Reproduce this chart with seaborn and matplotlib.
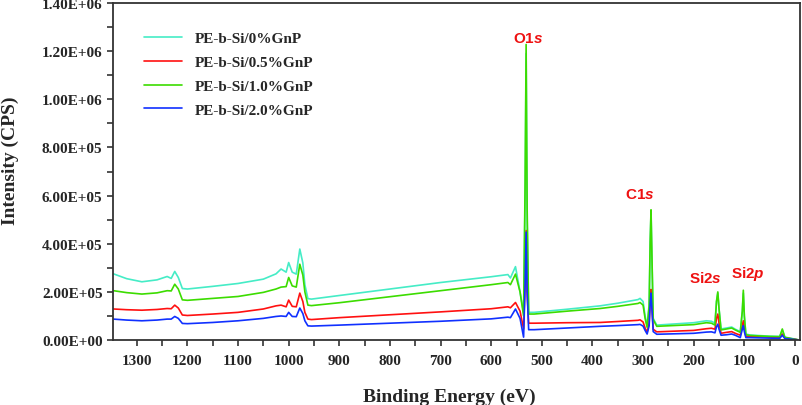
import pandas as pd
import matplotlib
matplotlib.use("Agg")
import matplotlib.pyplot as plt
import seaborn as sns
from matplotlib.ticker import MultipleLocator

# binding energy grid (eV) and intensities (x1e5 CPS)
energy = [1346, 1320, 1290, 1260, 1240, 1232, 1225, 1218, 1210, 1200,
          1150, 1100, 1050, 1025, 1015, 1005, 1000, 993, 985, 978,
          972, 968, 962, 955, 900, 800, 700, 600, 567, 562,
          552, 543, 536, 533, 531, 529, 526, 515, 450, 385,
          350, 310, 306, 300, 296, 292, 288, 286, 284.3, 282.5,
          280, 273, 200, 175, 165, 158, 155, 152.4, 150, 146,
          135, 125, 118, 108, 104, 102, 100, 97, 89, 50,
          30, 25, 20, 10, 0, -5]

gnp0 = [2.75, 2.55, 2.42, 2.50, 2.64, 2.56, 2.85, 2.60, 2.14, 2.12,
        2.23, 2.35, 2.53, 2.75, 2.95, 2.82, 3.22, 2.82, 2.74, 3.78,
        3.20, 2.30, 1.72, 1.70, 1.85, 2.12, 2.39, 2.63, 2.72, 2.58,
        3.05, 2.00, 1.12, 6.00, 11.9, 5.00, 1.15, 1.15, 1.28, 1.42,
        1.53, 1.68, 1.73, 1.60, 1.00, 0.59, 1.50, 4.00, 5.30, 3.40,
        0.90, 0.62, 0.72, 0.80, 0.78, 0.70, 1.60, 1.95, 1.30, 0.46,
        0.50, 0.54, 0.45, 0.35, 1.20, 1.95, 1.00, 0.25, 0.21, 0.16,
        0.15, 0.42, 0.12, 0.08, 0.04, 0.02]

gnp05 = [1.29, 1.26, 1.24, 1.27, 1.31, 1.30, 1.45, 1.33, 1.04, 1.02,
         1.08, 1.15, 1.29, 1.42, 1.45, 1.38, 1.66, 1.40, 1.38, 1.95,
         1.60, 1.15, 0.87, 0.85, 0.93, 1.05, 1.17, 1.30, 1.38, 1.34,
         1.56, 1.20, 0.46, 2.40, 4.55, 2.00, 0.70, 0.70, 0.72, 0.73,
         0.77, 0.82, 0.84, 0.75, 0.50, 0.32, 0.70, 1.60, 2.10, 1.40,
         0.45, 0.34, 0.40, 0.47, 0.49, 0.45, 0.90, 1.08, 0.70, 0.28,
         0.32, 0.35, 0.28, 0.20, 0.60, 0.80, 0.50, 0.16, 0.15, 0.12,
         0.11, 0.25, 0.09, 0.06, 0.03, 0.01]

gnp10 = [2.05, 1.97, 1.91, 1.96, 2.05, 2.04, 2.32, 2.12, 1.67, 1.65,
         1.73, 1.81, 1.98, 2.12, 2.20, 2.22, 2.60, 2.25, 2.20, 3.15,
         2.70, 2.00, 1.45, 1.43, 1.55, 1.80, 2.05, 2.30, 2.39, 2.30,
         2.74, 2.00, 1.00, 6.50, 12.28, 5.50, 1.08, 1.08, 1.20, 1.31,
         1.40, 1.52, 1.56, 1.45, 0.90, 0.53, 1.40, 4.10, 5.41, 3.50,
         0.85, 0.57, 0.64, 0.72, 0.70, 0.62, 1.60, 2.00, 1.30, 0.42,
         0.46, 0.50, 0.42, 0.32, 1.20, 2.07, 1.00, 0.22, 0.19, 0.15,
         0.14, 0.46, 0.11, 0.07, 0.03, 0.01]

gnp20 = [0.87, 0.83, 0.80, 0.83, 0.87, 0.87, 0.98, 0.90, 0.69, 0.68,
         0.73, 0.80, 0.90, 0.98, 1.00, 0.98, 1.15, 0.98, 0.97, 1.33,
         1.10, 0.80, 0.59, 0.58, 0.62, 0.70, 0.78, 0.88, 0.95, 0.93,
         1.29, 0.90, 0.12, 2.30, 4.48, 2.00, 0.43, 0.43, 0.50, 0.57,
         0.60, 0.64, 0.65, 0.58, 0.40, 0.25, 0.60, 1.50, 1.95, 1.30,
         0.35, 0.24, 0.28, 0.33, 0.34, 0.30, 0.55, 0.66, 0.45, 0.20,
         0.22, 0.25, 0.20, 0.10, 0.45, 0.60, 0.35, 0.10, 0.10, 0.08,
         0.07, 0.20, 0.06, 0.04, 0.02, 0.00]

labels = ["PE-b-Si/0%GnP", "PE-b-Si/0.5%GnP", "PE-b-Si/1.0%GnP", "PE-b-Si/2.0%GnP"]
colors = ["#45ECC6", "#FF1010", "#3CDC00", "#1030FF"]

# peak labels: (main, italic part, energy, intensity x1e5)
peaks = [("O1", "s", 527, 12.55), ("C1", "s", 306, 6.05),
         ("Si2", "s", 176, 2.6), ("Si2", "p", 93, 2.78)]

frames = []
for lab, ys in zip(labels, [gnp0, gnp05, gnp10, gnp20]):
    frames.append(pd.DataFrame({"energy": energy,
                                "cps": [v * 1e5 for v in ys],
                                "sample": lab}))
df = pd.concat(frames, ignore_index=True)

sns.set_style("ticks")
plt.rcParams['font.family'] = ['Liberation Serif', 'DejaVu Serif']
plt.rcParams['mathtext.fontset'] = 'custom'
plt.rcParams['mathtext.it'] = 'Liberation Sans:bold:italic'
plt.rcParams['mathtext.rm'] = 'Liberation Sans:bold'

fig = plt.figure(figsize=(8.03, 4.06), dpi=100)
ax = fig.add_axes([0.1407, 0.160, 0.8556, 0.830])

sns.lineplot(data=df, x="energy", y="cps", hue="sample", hue_order=labels,
             palette=dict(zip(labels, colors)), estimator=None, sort=False,
             linewidth=1.2, ax=ax)

ax.set_xlim(1347, -10)
ax.set_ylim(0, 1.4e6)
ax.xaxis.set_major_locator(MultipleLocator(100))
ax.xaxis.set_minor_locator(MultipleLocator(50))
ax.yaxis.set_major_locator(MultipleLocator(2e5))
ax.yaxis.set_minor_locator(MultipleLocator(1e5))
ax.yaxis.set_major_formatter(plt.FuncFormatter(lambda v, p: "%.2E" % v))
ax.tick_params(which="both", direction="out", length=4, width=1.2, color="#333333")
ax.tick_params(axis="x", pad=6)
for t in ax.get_xticklabels() + ax.get_yticklabels():
    t.set_fontweight("bold")
    t.set_fontsize(11)
for s in ax.spines.values():
    s.set_linewidth(1.3)
    s.set_color("#333333")

ax.set_xlabel("Binding Energy (eV)", fontsize=14, fontweight="bold")
ax.set_ylabel("Intensity (CPS)", fontsize=14, fontweight="bold")
ax.xaxis.set_label_coords(0.49, -0.14)
ax.yaxis.set_label_coords(-0.137, 0.535)

for main, it, x, y in peaks:
    ax.text(x, y * 1e5, main + r"$\it{" + it + "}$", color="#EE1111",
            fontsize=11, fontweight="bold", family="Liberation Sans",
            ha="center", va="center")

leg = ax.legend(loc="upper left", bbox_to_anchor=(0.045, 0.915), frameon=False,
                fontsize=11, handlelength=2.5, handletextpad=0.85,
                labelspacing=0.66, borderpad=0, borderaxespad=0)
for t in leg.get_texts():
    t.set_fontweight("bold")

plt.savefig("out.png", dpi=100)
